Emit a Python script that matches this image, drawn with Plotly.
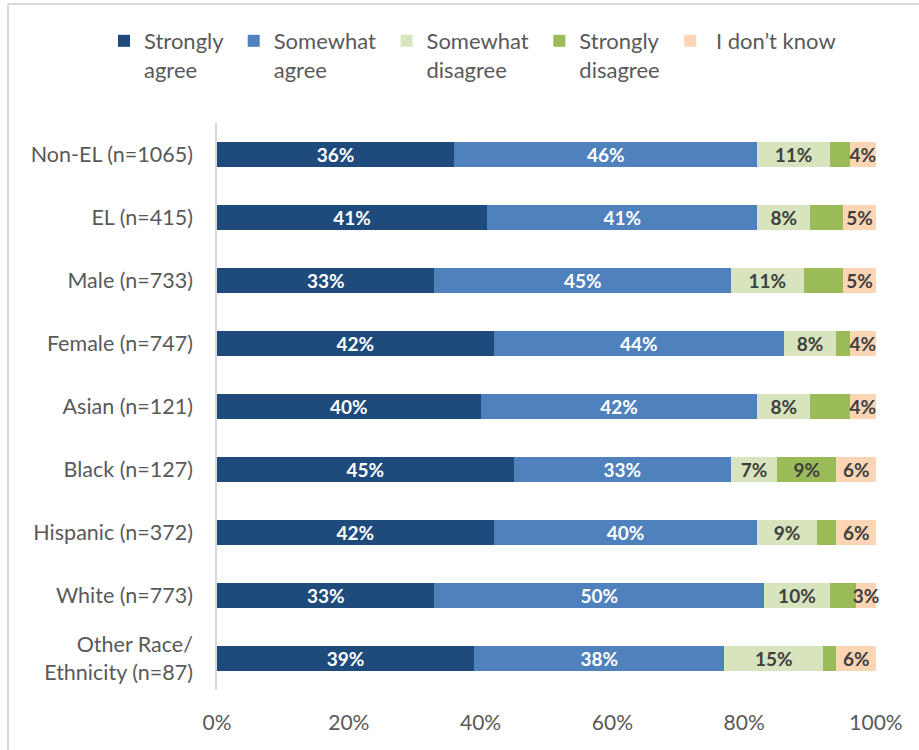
import plotly.graph_objects as go

# Survey groups, top to bottom
groups = [
    "Non-EL (n=1065)",
    "EL (n=415)",
    "Male (n=733)",
    "Female (n=747)",
    "Asian (n=121)",
    "Black (n=127)",
    "Hispanic (n=372)",
    "White (n=773)",
    "Other Race/<br>Ethnicity (n=87)",
]

# Percent of respondents per response option
strongly_agree = [36, 41, 33, 42, 40, 45, 42, 33, 39]
somewhat_agree = [46, 41, 45, 44, 42, 33, 40, 50, 38]
somewhat_disagree = [11, 8, 11, 8, 8, 7, 9, 10, 15]
strongly_disagree = [3, 5, 6, 2, 6, 9, 3, 4, 2]
dont_know = [4, 5, 5, 4, 4, 6, 6, 3, 6]

# Which strongly-disagree segments carry a printed value
strongly_disagree_labeled = [False, False, False, False, False, True, False, False, False]

x_ticks = [0, 20, 40, 60, 80, 100]

FONT = "Lato, 'Open Sans', sans-serif"
GRAY_TEXT = "#595959"
DARK_TEXT = "#404040"
NBSP = "\u00a0"

series = [
    ("Strongly" + NBSP + "<br>agree", strongly_agree, "#1F4A7C", "white", None),
    ("Somewhat" + NBSP + "<br>agree", somewhat_agree, "#4F81BD", "white", None),
    ("Somewhat" + NBSP + "<br>disagree" + NBSP, somewhat_disagree, "#D7E4BD", DARK_TEXT, None),
    ("Strongly" + NBSP + "<br>disagree" + NBSP, strongly_disagree, "#9BBB59", DARK_TEXT, strongly_disagree_labeled),
    (NBSP + "I don’t know", dont_know, "#FCD5B5", DARK_TEXT, None),
]

fig = go.Figure()
for name, vals, color, txt_color, mask in series:
    labels = [
        (f"{v:g}%" if (mask is None or mask[i]) else "")
        for i, v in enumerate(vals)
    ]
    clean_name = name.replace("<br>", " ").replace(NBSP, " ").strip()
    fig.add_trace(go.Bar(
        y=groups,
        x=vals,
        name=name,
        orientation="h",
        marker=dict(color=color, line=dict(width=0)),
        text=labels,
        textposition="inside",
        insidetextanchor="middle",
        constraintext="none",
        textangle=0,
        textfont=dict(family=FONT, size=19, color=txt_color, weight="bold"),
        cliponaxis=False,
        hovertemplate="%{y}: %{x}%<extra>" + clean_name + "</extra>",
    ))

W, H = 919, 750
ML, MR, MT, MB = 217, 43, 123, 60
pw, ph = W - ML - MR, H - MT - MB

def px_to_paper_x(px):
    return (px - ML) / pw

def px_to_paper_y(py):
    return (H - MB - py) / ph

# Light chart-area border along the top and left edges
border = dict(color="#D9D9D9", width=2)
fig.add_shape(type="line", xref="paper", yref="paper",
              x0=px_to_paper_x(8), x1=px_to_paper_x(W + 5),
              y0=px_to_paper_y(4), y1=px_to_paper_y(4), line=border)
fig.add_shape(type="line", xref="paper", yref="paper",
              x0=px_to_paper_x(8), x1=px_to_paper_x(8),
              y0=px_to_paper_y(4), y1=px_to_paper_y(H + 5), line=border)

fig.update_layout(
    width=W,
    height=H,
    margin=dict(l=ML, r=MR, t=MT, b=MB, pad=0, autoexpand=False),
    barmode="stack",
    bargap=0.61,
    paper_bgcolor="white",
    plot_bgcolor="white",
    font=dict(family=FONT, size=21, color=GRAY_TEXT),
    showlegend=True,
    legend=dict(
        orientation="h",
        xref="paper",
        yref="paper",
        x=px_to_paper_x(104),
        y=px_to_paper_y(20),
        xanchor="left",
        yanchor="top",
        traceorder="normal",
        valign="top",
        font=dict(family=FONT, size=22, color=GRAY_TEXT),
        bgcolor="rgba(0,0,0,0)",
    ),
    xaxis=dict(
        range=[0, 100],
        tickvals=x_ticks,
        ticktext=[f"{t}%" for t in x_ticks],
        showgrid=False,
        zeroline=False,
        showline=False,
        ticks="",
        ticklabelstandoff=18,
        tickfont=dict(family=FONT, size=21, color=GRAY_TEXT),
        fixedrange=True,
    ),
    yaxis=dict(
        categoryorder="array",
        categoryarray=groups,
        autorange="reversed",
        showgrid=False,
        zeroline=False,
        showline=True,
        linecolor="#D9D9D9",
        linewidth=1.5,
        ticks="",
        ticklabelstandoff=18,
        tickfont=dict(family=FONT, size=21.5, color=GRAY_TEXT),
        fixedrange=True,
    ),
)

fig.write_html("out.html")
